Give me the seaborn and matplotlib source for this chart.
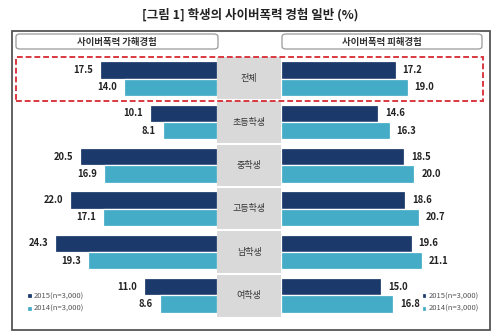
import matplotlib
matplotlib.use("Agg")
import matplotlib.pyplot as plt
from matplotlib.patches import Rectangle, FancyBboxPatch
import seaborn as sns
import pandas as pd

sns.set_theme(style="white")
plt.rcParams['font.family'] = ['Noto Sans CJK KR', 'DejaVu Sans']

title = "[그림 1] 학생의 사이버폭력 경험 일반 (%)"
left_header = "사이버폭력 가해경험"
right_header = "사이버폭력 피해경험"
categories = ["전체", "초등학생", "중학생", "고등학생", "남학생", "여학생"]
series_names = ["2015(n=3,000)", "2014(n=3,000)"]
perp_2015 = [17.5, 10.1, 20.5, 22.0, 24.3, 11.0]
perp_2014 = [14.0, 8.1, 16.9, 17.1, 19.3, 8.6]
vict_2015 = [17.2, 14.6, 18.5, 18.6, 19.6, 15.0]
vict_2014 = [19.0, 16.3, 20.0, 20.7, 21.1, 16.8]

colors = ["#1b3a6b", "#45acc8"]

def make_df(v15, v14):
    rows = []
    for c, a, b in zip(categories, v15, v14):
        rows.append({"cat": c, "year": series_names[0], "val": a})
        rows.append({"cat": c, "year": series_names[1], "val": b})
    return pd.DataFrame(rows)

df_l = make_df(perp_2015, perp_2014)
df_r = make_df(vict_2015, vict_2014)

W, H = 500, 336
fig = plt.figure(figsize=(5, 3.36), dpi=100)
fig.patch.set_facecolor("white")

def px(x0, y0, x1, y1):
    return [x0 / W, 1 - y1 / H, (x1 - x0) / W, (y1 - y0) / H]

scale = 6.67  # px per unit
axL = fig.add_axes(px(12, 57, 217, 317))
axC = fig.add_axes(px(217, 57, 281, 317))
axR = fig.add_axes(px(281, 57, 490, 317))

for ax, df in ((axL, df_l), (axR, df_r)):
    sns.barplot(data=df, y="cat", x="val", hue="year", orient="h",
                palette=colors, order=categories, hue_order=series_names,
                width=0.8, ax=ax, edgecolor="white", linewidth=0.9,
                saturation=1)
    ax.set_facecolor("none")

axL.set_xlim(205 / scale, 0)
axR.set_xlim(0, 209 / scale)

for ax in (axL, axR):
    for cont in ax.containers:
        ax.bar_label(cont, fmt="%.1f", padding=5, fontsize=6.8,
                     fontweight="bold", color="#222")
    ax.set_ylim(len(categories) - 0.5, -0.5)
    ax.set_xlabel(""); ax.set_ylabel("")
    ax.set_xticks([]); ax.set_yticks([])
    for s in ax.spines.values():
        s.set_visible(False)

# legends
sns.move_legend(axL, "center left", bbox_to_anchor=(0.04, 0.055), frameon=False,
                fontsize=5.5, handlelength=0.6, handleheight=0.6, handletextpad=0.3,
                labelspacing=0.55, title=None, labelcolor="#555")
sns.move_legend(axR, "center left", bbox_to_anchor=(0.64, 0.055), frameon=False,
                fontsize=5.5, handlelength=0.6, handleheight=0.6, handletextpad=0.3,
                labelspacing=0.55, title=None, labelcolor="#555")

# center column
axC.set_facecolor("#d9d9d9")
axC.set_xlim(0, 1)
axC.set_ylim(len(categories) - 0.5, -0.5)
for i in range(1, len(categories)):
    axC.axhline(i - 0.5, color="white", lw=1.5)
for i, c in enumerate(categories):
    axC.text(0.5, i, c, ha="center", va="center", fontsize=6.5, color="#333")
axC.set_xticks([]); axC.set_yticks([])
for s in axC.spines.values():
    s.set_visible(False)

# title
fig.text(0.5, 1 - 15 / H, title, ha="center", va="center", fontsize=9,
         fontweight="bold", color="#222")

# outer frame
fig.add_artist(Rectangle((12 / W, 1 - 330 / H), 478 / W, 299 / H,
                         transform=fig.transFigure, fill=False,
                         ec="#555555", lw=1.3, zorder=10))

# header boxes
for (x0, x1, txt) in ((16, 218, left_header), (282, 482, right_header)):
    fig.add_artist(FancyBboxPatch((x0 / W, 1 - 49 / H), (x1 - x0) / W, 15 / H,
                                  boxstyle="round,pad=0,rounding_size=0.008",
                                  transform=fig.transFigure, fill=False,
                                  ec="#9a9a9a", lw=0.9))
    fig.text((x0 + x1) / 2 / W, 1 - 41.5 / H, txt, ha="center", va="center",
             fontsize=6.8, color="#333", fontweight="bold")

# dashed highlight box
fig.add_artist(Rectangle((16 / W, 1 - 101 / H), 467 / W, 44 / H,
                         transform=fig.transFigure, fill=False,
                         ec="#d9383f", lw=1.4, ls=(0, (3, 1.5)), zorder=11))

fig.savefig("out.png", dpi=100, facecolor="white")
